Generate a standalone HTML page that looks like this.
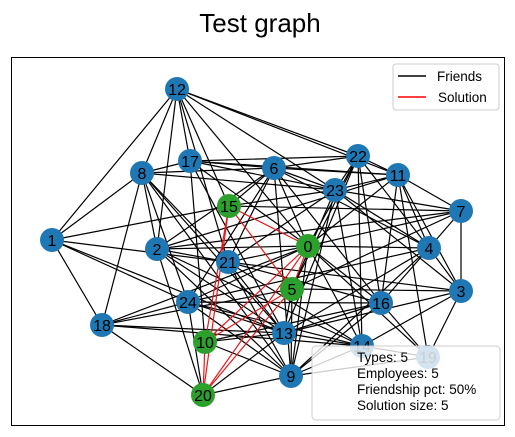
<!DOCTYPE html>
<html><head><meta charset="utf-8">
<style>
html,body{margin:0;padding:0;background:#fff;}
svg{display:block;font-family:"Liberation Sans","DejaVu Sans",sans-serif;}
</style></head>
<body>
<svg id="chart" width="515" height="437" viewBox="0 0 515 437" xmlns="http://www.w3.org/2000/svg">
<text x="260" y="32" font-size="26" text-anchor="middle" fill="#000">Test graph</text>
<rect x="11.5" y="57.5" width="493" height="368" fill="none" stroke="#000" stroke-width="1"/>
<g id="edges"></g>
<g id="nodes"></g>
<g>
<rect x="393" y="64" width="106" height="46" rx="3" fill="#fff" fill-opacity="0.8" stroke="#ccc"/>
<line x1="398" y1="76" x2="426" y2="76" stroke="#000" stroke-width="1.5"/>
<text x="437" y="81" font-size="13.5">Friends</text>
<line x1="398" y1="97" x2="426" y2="97" stroke="#f00" stroke-width="1.5"/>
<text x="438" y="102" font-size="13.5">Solution</text>
</g>
<g>
<rect x="312" y="346" width="188" height="74" rx="4" fill="#fff" fill-opacity="0.8" stroke="#ccc"/>
<text x="357" y="362" font-size="13.5">Types: 5</text>
<text x="357" y="378" font-size="13.5">Employees: 5</text>
<text x="357" y="394" font-size="13.5">Friendship pct: 50%</text>
<text x="357" y="410" font-size="13.5">Solution size: 5</text>
</g>
</svg>
<script>
const nodeIds = [0,1,2,3,4,5,6,7,8,9,10,11,12,13,14,15,16,17,18,19,20,21,22,23,24];
const nodeXs = [308,52,157,461,429,292,274,461,142,291,205,398,177,284,362,229,381,190,102,428,203,228,358,335,188];
const nodeYs = [246,240,249,291,248,289,168,211,173,376,342,175,89,333,346,206,303,161,325,357,395,262,156,190,302];
const solutionNodes = [15,0,5,10,20];
const friendEdges = [
[12,1],[12,8],[12,2],[12,17],[12,21],[12,15],[12,0],[12,23],[12,11],[12,22],
[1,8],[1,15],[1,21],[1,18],[1,24],[1,13],
[8,17],[8,6],[8,23],[8,2],[8,21],[8,13],[8,24],[8,18],[8,9],
[17,6],[17,22],[17,11],[17,23],[17,0],[17,10],[17,13],
[6,22],[6,11],[6,23],[6,2],[6,21],[6,4],[6,16],[6,9],[6,0],[6,24],[6,15],
[22,11],[22,23],[22,0],[22,16],[22,14],[22,4],[22,5],[22,13],
[11,7],[11,4],[11,16],[11,3],[11,0],[11,23],[11,19],[11,2],
[23,7],[23,4],[23,14],[23,5],[23,9],[23,21],[23,3],[23,15],
[7,3],[7,4],[7,0],[7,5],[7,2],[7,15],
[4,0],[4,3],[4,16],[4,13],[4,24],[4,9],
[3,5],[3,14],[3,21],[3,13],[3,19],
[0,21],[0,24],[0,18],[0,16],[0,14],[0,19],[0,9],[0,2],
[21,2],[21,13],[21,9],[21,14],[21,16],
[2,13],[2,14],[2,9],[2,20],
[24,18],[24,16],[24,9],[24,13],
[18,13],[18,14],[18,20],[18,5],
[16,13],[16,9],[16,19],[16,10],
[13,5],[13,20],[13,10],[13,19],
[14,9],[14,24],[9,20],[9,10],[9,5],[9,19],[20,24]
];
const NS="http://www.w3.org/2000/svg";
const eg=document.getElementById('edges'), ng=document.getElementById('nodes');
function px(i){return nodeXs[nodeIds.indexOf(i)];}
function py(i){return nodeYs[nodeIds.indexOf(i)];}
function addLine(a,b,color,name){
  const l=document.createElementNS(NS,'line');
  l.setAttribute('x1',px(a));l.setAttribute('y1',py(a));
  l.setAttribute('x2',px(b));l.setAttribute('y2',py(b));
  l.setAttribute('stroke',color);l.setAttribute('stroke-width','1.2');
  
  
  eg.appendChild(l);
}
friendEdges.forEach(e=>addLine(e[0],e[1],'#000','edge-'+e[0]+'-'+e[1]));
for(let i=0;i<solutionNodes.length;i++)for(let j=i+1;j<solutionNodes.length;j++)
  addLine(solutionNodes[i],solutionNodes[j],'#e41a1c','solution-edge-'+solutionNodes[i]+'-'+solutionNodes[j]);
nodeIds.forEach((id,k)=>{
  const g=document.createElementNS(NS,'g');
  
  
  const c=document.createElementNS(NS,'circle');
  c.setAttribute('cx',nodeXs[k]);c.setAttribute('cy',nodeYs[k]);c.setAttribute('r','12');
  c.setAttribute('fill',solutionNodes.includes(id)?'#2ca02c':'#1f77b4');
  const t=document.createElementNS(NS,'text');
  t.setAttribute('x',nodeXs[k]);t.setAttribute('y',nodeYs[k]+6);
  t.setAttribute('text-anchor','middle');t.setAttribute('font-size','16');
  t.textContent=id;
  g.appendChild(c);g.appendChild(t);ng.appendChild(g);
});
</script>
</body></html>
